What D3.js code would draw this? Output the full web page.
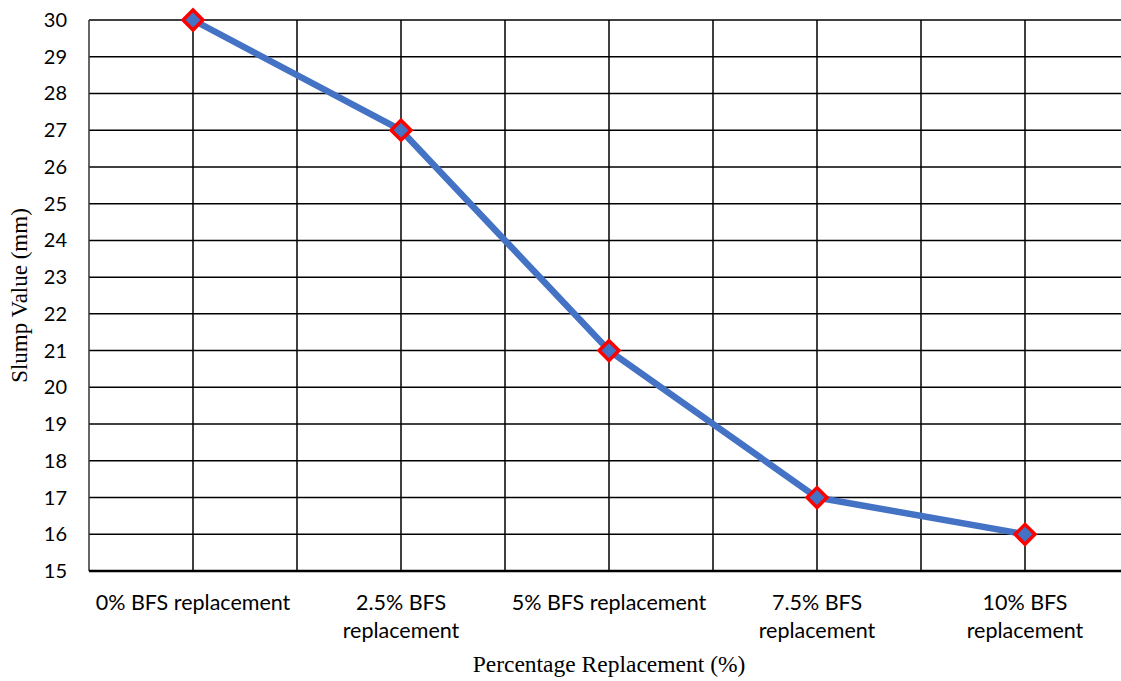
<!DOCTYPE html>
<html><head><meta charset="utf-8">
<script src="https://cdn.jsdelivr.net/npm/d3@7"></script>
<style>body{margin:0;background:#fff;overflow:hidden}</style>
</head><body>
<svg id="c" width="1121" height="681"></svg>
<script>
const categories = [["0% BFS replacement"], ["2.5% BFS", "replacement"], ["5% BFS replacement"], ["7.5% BFS", "replacement"], ["10% BFS", "replacement"]];
const slump = [30, 27, 21, 17, 16];
const yTicks = [15,16,17,18,19,20,21,22,23,24,25,26,27,28,29,30];

const svg = d3.select("#c");
const L = 89, R = 1129, T = 20, B = 571;
const x = d3.scaleBand().domain(d3.range(categories.length)).range([L, R]);
const y = d3.scaleLinear().domain([15, 30]).range([B, T]);
const cx = i => x(i) + x.bandwidth() / 2;

// horizontal gridlines
svg.append("g").selectAll("line").data(yTicks.filter(v => v > 15)).join("line")
  .attr("x1", L).attr("x2", R).attr("y1", d => y(d)).attr("y2", d => y(d))
  .attr("stroke", "#000").attr("stroke-width", 1.5);
// vertical gridlines at category centers and boundaries
const vLines = [];
categories.forEach((c, i) => { vLines.push(cx(i)); if (i > 0) vLines.push(x(i)); });
svg.append("g").selectAll("line").data(vLines).join("line")
  .attr("x1", d => d).attr("x2", d => d).attr("y1", T).attr("y2", B)
  .attr("stroke", "#000").attr("stroke-width", 1.5);
// left axis
svg.append("line").attr("x1", L).attr("x2", L).attr("y1", T).attr("y2", B)
  .attr("stroke", "#333").attr("stroke-width", 1.5);
// bottom axis
svg.append("line").attr("x1", L).attr("x2", R).attr("y1", B).attr("y2", B)
  .attr("stroke", "#000").attr("stroke-width", 2.5);

// y tick labels
svg.append("g").selectAll("text").data(yTicks).join("text")
  .attr("x", 67).attr("y", d => y(d)).attr("dy", "0.35em")
  .attr("text-anchor", "end").attr("font-family", "Lato, 'Open Sans', sans-serif")
  .attr("font-size", 20).attr("fill", "#000").text(d => d);

// x tick labels
const xl = svg.append("g").selectAll("text").data(categories).join("text")
  .attr("text-anchor", "middle").attr("font-family", "Lato, 'Open Sans', sans-serif")
  .attr("font-size", 21.5).attr("fill", "#000")
  .attr("transform", (d, i) => `translate(${cx(i)},610)`);
xl.selectAll("tspan").data(d => d).join("tspan")
  .attr("x", 0).attr("dy", (d, j) => j === 0 ? 0 : 28).text(d => d);

// axis titles
svg.append("text").attr("x", 609).attr("y", 672).attr("text-anchor", "middle")
  .attr("font-family", "'Liberation Serif', 'Times New Roman', serif").attr("font-size", 23.5)
  .text("Percentage Replacement (%)");
svg.append("text").attr("transform", `translate(27,${(T + B) / 2}) rotate(-90)`)
  .attr("text-anchor", "middle")
  .attr("font-family", "'Liberation Serif', 'Times New Roman', serif").attr("font-size", 23)
  .text("Slump Value (mm)");

// line
svg.append("path").datum(slump)
  .attr("d", d3.line().x((d, i) => cx(i)).y(d => y(d)))
  .attr("fill", "none").attr("stroke", "#4472C4").attr("stroke-width", 6.5)
  .attr("stroke-linejoin", "round");
// markers
svg.append("g").selectAll("path").data(slump).join("path")
  .attr("transform", (d, i) => `translate(${cx(i)},${y(d)})`)
  .attr("d", d3.symbol(d3.symbolDiamond2, 250)())
  .attr("fill", "#4472C4").attr("stroke", "#FF0000").attr("stroke-width", 3.5);
</script>
</body></html>
